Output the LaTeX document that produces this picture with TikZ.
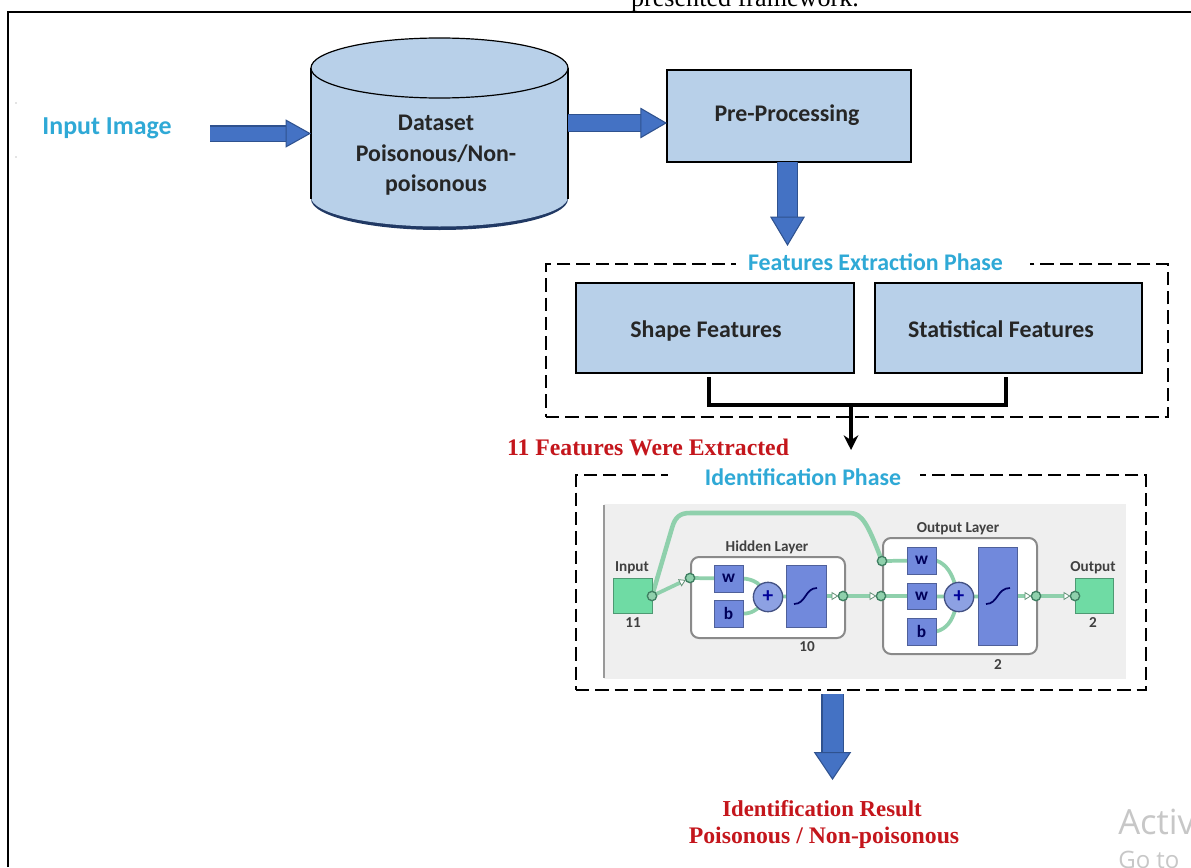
\documentclass[tikz,border=0pt]{standalone}
\usepackage{fontspec}
\setmainfont{Carlito}
\newfontfamily\serifbf{Liberation Serif}
\newfontfamily\winfont{Open Sans}
\usetikzlibrary{arrows.meta,calc,shapes.geometric}
\pgfdeclarelayer{wires}
\pgfdeclarelayer{top}
\pgfsetlayers{main,wires,top}
\definecolor{boxblue}{HTML}{B8D0E9}
\definecolor{arrowblue}{HTML}{4472C4}
\definecolor{arrowedge}{HTML}{2F528F}
\definecolor{phasecyan}{HTML}{2FA9D6}
\definecolor{resred}{HTML}{C4161C}
\definecolor{panelgray}{HTML}{EFEFEF}
\definecolor{nngreen}{HTML}{6FDBA4}
\definecolor{nnline}{HTML}{8FD0AC}
\definecolor{nncircle}{HTML}{3F7F62}
\definecolor{nnblue}{HTML}{7189DC}
\definecolor{nnframe}{HTML}{8A8A8A}
\newcommand{\sz}[1]{\fontsize{#1}{#1}\selectfont}
% \pbox{name}{x1}{y1}{x2}{y2}{style}{text}
\newcommand{\pbox}[7]{\node[#6,minimum width={(#4-#2)*0.75pt},minimum height={(#5-#3)*0.75pt}] (#1) at ({(#2+#4)/2},{(#3+#5)/2}) {#7};}
\tikzset{
  procbox/.style={draw=black,line width=0.9pt,fill=boxblue,inner sep=0pt,outer sep=0pt},
  boxlabel/.style={font=\bfseries\sz{17.9},text=black!85,inner sep=0pt},
  phaseframe/.style={draw=black,line width=0.9pt,dash pattern=on 10pt off 4.5pt,inner sep=0pt,outer sep=0pt},
  phasetitle/.style={font=\bfseries\sz{17.9},text=phasecyan,inner sep=0pt},
  redtext/.style={font=\serifbf\bfseries\sz{17.8},text=resred,inner sep=0pt},
  bluearrow/.style n args={3}{draw=arrowedge,line width=0.8pt,double=arrowblue,double distance=#1,
     -{Triangle[length=#2,width=#3,fill=arrowblue,color=arrowedge,line width=0.8pt]}},
  elbow/.style={draw=black,line width=2.4pt},
  blackarrow/.style={draw=black,line width=2.8pt,-{Stealth[length=11pt,width=11pt]}},
  nnnode/.style={draw=nnblue!70!black,line width=0.7pt,fill=nnblue,inner sep=0pt,outer sep=0pt,font=\bfseries\sz{13},text=black!65!blue},
  nnport/.style={draw=nngreen!70!black,line width=0.7pt,fill=nngreen,inner sep=0pt,outer sep=0pt},
  nnlayer/.style={draw=nnframe,line width=1.5pt,rounded corners=6pt,fill=white,inner sep=0pt,outer sep=0pt},
  nnplus/.style={circle,draw=nnblue!60!black,line width=1pt,fill=nnblue!80,minimum size=22pt,inner sep=0pt,outer sep=0pt,font=\bfseries\sz{16},text=blue!60!black},
  nndot/.style={circle,draw=nncircle,line width=1pt,fill=nnline,minimum size=7pt,inner sep=0pt,outer sep=0pt},
  nnwire/.style={draw=nnline,line width=2.8pt,line cap=round},
  nnflow/.style={nnwire,-{Triangle[open,length=5pt,width=6pt,color=nnline!70!black,fill=white,line width=.6pt]}},
  nnlabel/.style={font=\bfseries\sz{11.4},text=black!75,inner sep=0pt},
}
\begin{document}
\begin{tikzpicture}[x=0.75pt,y=-0.75pt]
\useasboundingbox (0,0) rectangle (1191,867);
\clip (0,0) rectangle (1191,867);
\fill[white] (0,0) rectangle (1191,867);

% caption fragment and outer frame
\node[font=\serifbf\sz{19.6},anchor=base,inner sep=0pt] (caption) at (745,6.5) {presented framework.};
\fill[white] (0,12) rectangle (1191,867);
\draw[black,line width=0.9pt] (8,867) -- (8,12) -- (1191,12);
\fill[black!45] (16,103) circle (0.5pt) (16,157) circle (0.5pt);

% dataset cylinder
\fill[arrowedge!70!black] (311,199) arc[start angle=180,end angle=0,x radius=128.5,y radius=31] -- (568,190) -- (311,190) -- cycle;
\path[fill=boxblue] (311,68) -- (311,197) arc[start angle=180,end angle=0,x radius=128.5,y radius=29.5] -- (568,68) -- cycle;
\draw[black,line width=0.9pt] (311,68) -- (311,199) (568,68) -- (568,199);
\draw[black,line width=0.9pt,fill=boxblue] (439.5,68) ellipse[x radius=128.5,y radius=30];
\node[boxlabel,align=center] (dataset) at (436,155) {Dataset\\[5.2pt]Poisonous/Non-\\[4.6pt]poisonous};
\coordinate (dsin) at (311,133.5);
\coordinate (dsout) at (568,123);
\coordinate (instart) at (210,133.5);

\node[font=\bfseries\sz{19.4},text=phasecyan,inner sep=0pt] (input) at (107,128.5) {Input Image};
\pbox{pre}{667}{70}{911}{162}{procbox}{}
\node[boxlabel] (prelabel) at (787,115) {Pre-Processing};

% feature phase
\pbox{featframe}{546}{264}{1168}{417}{phaseframe}{}
\fill[white] (736,258) rectangle (1030,270);
\node[phasetitle] (feattitle) at (875.5,262) {Features Extraction Phase};
\pbox{shape}{576}{283}{854}{373}{procbox}{}
\node[boxlabel] (shapelabel) at (706,331) {Shape Features};
\pbox{stat}{875}{283}{1142}{373}{procbox}{}
\node[boxlabel] (statlabel) at (1001,329) {Statistical Features};
\coordinate (elbowL) at (709,377);
\coordinate (elbowR) at (1006,377);
\coordinate (elbowM) at (851,405);

% identification phase
\pbox{idframe}{576}{475}{1146}{690}{phaseframe}{}
\fill[white] (668,469) rectangle (920,481);
\node[phasetitle] (idtitle) at (803,477) {Identification Phase};

% arrows
\coordinate (prestart) at (787.5,162);
\draw[bluearrow={10.5pt}{19pt}{21pt}] (instart) -- (dsin);
\draw[bluearrow={11.5pt}{20pt}{23pt}] (dsout) -- (pre.west|-dsout);
\draw[bluearrow={14pt}{22pt}{26pt}] (prestart) -- (787.5,246);
\draw[elbow] (elbowL) |- (elbowM) -| (elbowR);
\draw[blackarrow] (elbowM) -- (851,450);
\node[redtext] (extracted) at (648,447) {11 Features Were Extracted};

% network panel
\pbox{panel}{604}{504}{1126}{679}{fill=panelgray,inner sep=0pt,outer sep=0pt}{}
\draw[black!40,line width=0.9pt] (604,505) -- (604,678);
\pbox{hidden}{691}{557}{845}{638}{nnlayer}{}
\pbox{outlayer}{883}{538}{1037}{654}{nnlayer}{}
\begin{pgfonlayer}{top}
\pbox{inbox}{613}{578}{652}{613}{nnport}{}
\pbox{outbox}{1075}{578}{1113}{613}{nnport}{}
\pbox{hw}{714}{565}{743}{592}{nnnode}{w}
\pbox{hb}{714}{600}{743}{627}{nnnode}{b}
\pbox{htf}{786}{565}{826}{627}{nnnode}{}
\pbox{ow1}{907}{547}{936}{574}{nnnode}{w}
\pbox{ow2}{907}{583}{936}{609}{nnnode}{w}
\pbox{ob}{907}{618}{936}{645}{nnnode}{b}
\pbox{otf}{978}{547}{1017}{645}{nnnode}{}
\node[nnplus] (hplus) at (768,597) {+};
\node[nnplus] (oplus) at (959,597) {+};
\node[nndot] (dIn) at (652,596) {};
\node[nndot] (dHi) at (690,578) {};
\node[nndot] (dHo) at (843,596) {};
\node[nndot] (dOi) at (881,596) {};
\node[nndot] (dSk) at (882,561) {};
\node[nndot] (dOo) at (1036,596) {};
\node[nndot] (dOut) at (1075,596) {};
% transfer function glyphs
\draw[draw=blue!40!black,line width=1.3pt] (794,604) .. controls (806,604) and (805,588) .. (817,588);
\draw[draw=blue!40!black,line width=1.3pt] (986,604) .. controls (998,604) and (997,588) .. (1010,588);
\end{pgfonlayer}

\begin{pgfonlayer}{wires}
\draw[nnwire,line width=3.4pt] (dIn) -- (672,528) .. controls (675,517) and (680,513) .. (690,513) -- (850,513) .. controls (862,513) and (868,525) .. (dSk);
\draw[nnflow] (dIn) -- (dHi);
\draw[nnwire] (dHi) -- (hw);
\draw[nnwire] (hw.east) .. controls (752,579) and (758,583) .. (hplus);
\draw[nnwire] (hb.east) .. controls (752,614) and (758,608) .. (hplus);
\draw[nnwire] (hplus) -- (htf);
\draw[nnflow] (htf.east|-dHo) -- (dHo);
\draw[nnflow] (dHo) -- (dOi);
\draw[nnwire] (dSk) -- (ow1);
\draw[nnwire] (dOi) -- (ow2);
\draw[nnwire] (ow2) -- (oplus);
\draw[nnwire] (ow1.east) .. controls (947,564) and (952,575) .. (oplus);
\draw[nnwire] (ob.east) .. controls (947,629) and (952,620) .. (oplus);
\draw[nnwire] (oplus) -- (otf);
\draw[nnflow] (otf.east|-dOo) -- (dOo);
\draw[nnflow] (dOo) -- (dOut);
\end{pgfonlayer}

\node[nnlabel] (lIn) at (632,568) {Input};
\node[nnlabel] (lIn2) at (633,623) {11};
\node[nnlabel] (lHid) at (767,547) {Hidden Layer};
\node[nnlabel] (lHid2) at (807,647) {10};
\node[nnlabel] (lOL) at (958,529) {Output Layer};
\node[nnlabel] (lOL2) at (998,665) {2};
\node[nnlabel] (lOut) at (1093,568) {Output};
\node[nnlabel] (lOut2) at (1093,623) {2};

% result
\coordinate (resstart) at (832.5,694);
\draw[bluearrow={15pt}{21pt}{28pt}] (resstart) -- (832.5,780);
\node[redtext,font=\serifbf\bfseries\sz{17.1}] (res1) at (822,809) {Identification Result};
\node[redtext] (res2) at (824,838) {Poisonous / Non-poisonous};

% watermark
\node[font=\winfont\sz{26},text=black!22,anchor=base west,inner sep=0pt] (wm1) at (1118,834) {Activ};
\node[font=\winfont\sz{18},text=black!22,anchor=base west,inner sep=0pt] (wm2) at (1118,868) {Go to};
\end{tikzpicture}
\end{document}
